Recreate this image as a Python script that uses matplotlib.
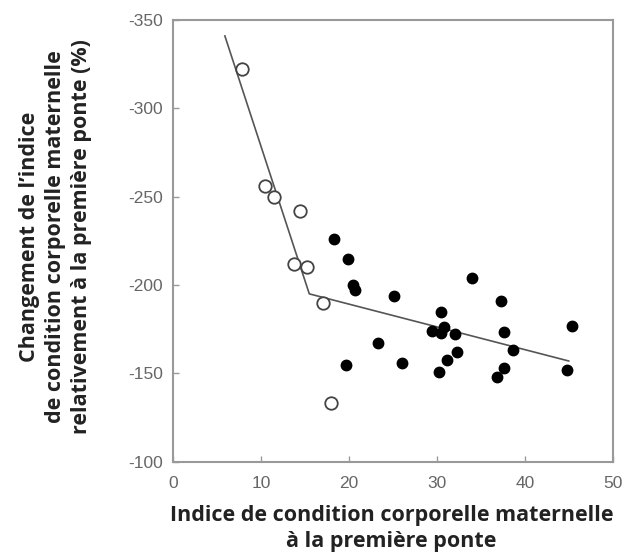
import numpy as np
import matplotlib
matplotlib.use('Agg')
import matplotlib.pyplot as plt

plt.rcParams['axes.unicode_minus'] = False

# open circles: first clutch, low body condition
open_x = [7.8, 10.45, 11.5, 14.5, 13.8, 15.2, 17.1, 17.95]
open_y = [-322, -256, -250, -242, -212, -210, -190, -133]

# filled circles
filled_x = [18.3, 19.85, 20.5, 20.7, 25.15, 34.0, 37.3, 30.5, 29.4, 30.45, 30.8,
            32.1, 37.65, 23.3, 19.65, 26.0, 30.3, 31.2, 32.35, 38.7, 37.6, 36.9,
            44.8, 45.4]
filled_y = [-226, -215, -200, -197, -194, -204, -191, -185, -174, -173, -176,
            -172, -173.5, -167, -155, -156, -150.5, -157.5, -162, -163, -153, -148,
            -152, -177]

# piecewise regression line
fit_x = [5.9, 15.5, 45.0]
fit_y = [-341, -195, -157]

xticks = [0, 10, 20, 30, 40, 50]
yticks = [-350, -300, -250, -200, -150, -100]

fig = plt.figure(figsize=(6.24, 5.56), dpi=100)
ax = fig.add_axes([0.2772, 0.1696, 0.7047, 0.7944])

ax.plot(fit_x, fit_y, color='#555555', lw=1.2, zorder=2)
ax.plot(open_x, open_y, 'o', ms=9, mfc='white', mec='#444444', mew=1.3,
        linestyle='none', zorder=3)
ax.plot(filled_x, filled_y, 'o', ms=7.5, mfc='black', mec='black',
        linestyle='none', zorder=3)

ax.set_xlim(0, 50)
ax.set_ylim(-100, -350)
ax.set_xticks(xticks)
ax.set_yticks(yticks)

for s in ax.spines.values():
    s.set_color('#999999')
    s.set_linewidth(1.5)

ax.tick_params(direction='in', length=4, width=1, color='#999999',
               labelcolor='#666666', labelsize=12.5, pad=7)
ax.tick_params(axis='x', pad=10)
for lab in ax.get_xticklabels() + ax.get_yticklabels():
    lab.set_fontfamily('Liberation Sans')

lab_font = dict(family='Open Sans', weight='bold', size=15.5, color='#222222')
ax.set_xlabel('Indice de condition corporelle maternelle\nà la première ponte',
              linespacing=1.33, va='top', **lab_font)
ax.set_ylabel('Changement de l\u2019indice\nde condition corporelle maternelle\n'
              'relativement à la première ponte (%)',
              linespacing=1.33, va='bottom', **lab_font)
ax.xaxis.set_label_coords(0.497, -0.098)
ax.yaxis.set_label_coords(-0.184, 0.51)

fig.savefig('out.png', dpi=100)
